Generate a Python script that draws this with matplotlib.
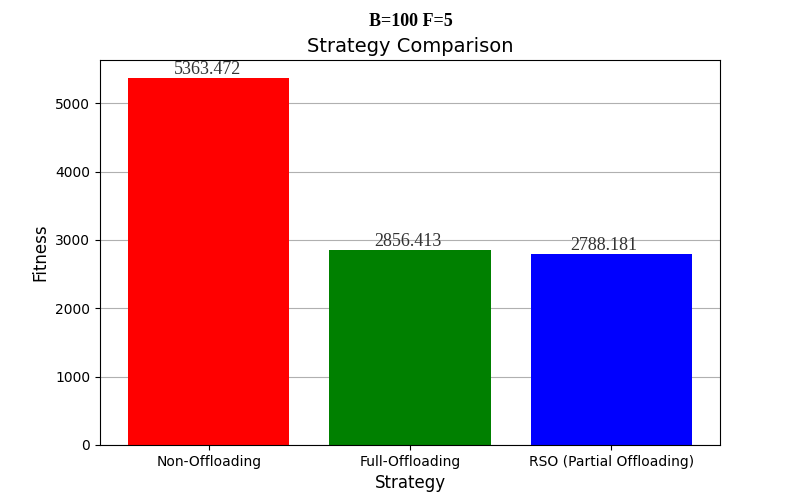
import matplotlib
matplotlib.use("Agg")
import matplotlib.pyplot as plt

strategies = ["Non-Offloading", "Full-Offloading", "RSO (Partial Offloading)"]
fitness = [5363.472, 2856.413, 2788.181]
colors = ["red", "green", "blue"]
label_dx_pt = [-1.0, -1.2, -5.7]

fig, ax = plt.subplots(figsize=(8, 5), dpi=100)
bars = ax.bar(strategies, fitness, color=colors, zorder=2)
ax.yaxis.grid(True, color="#b0b0b0", zorder=0)
ax.set_axisbelow(True)
for b, v, dx in zip(bars, fitness, label_dx_pt):
    ax.annotate(f"{v:.3f}", (b.get_x() + b.get_width() / 2, v), xytext=(dx, 0),
                textcoords="offset points", ha="center", va="bottom",
                fontsize=13, family="Liberation Serif", color="#333333")
ax.set_title("Strategy Comparison", fontsize=14)
ax.set_xlabel("Strategy", fontsize=12)
ax.set_ylabel("Fitness", fontsize=12)
fig.suptitle("B=100 F=5", fontsize=13, fontweight="bold", family="Liberation Serif",
             x=0.514, y=0.975)
fig.savefig("out.png")
